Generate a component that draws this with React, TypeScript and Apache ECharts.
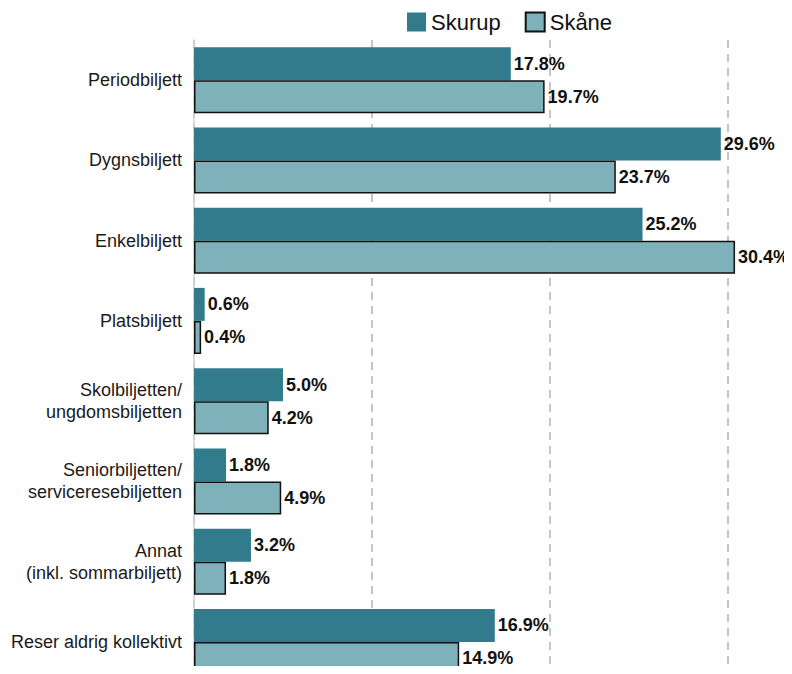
import React, { useEffect, useRef } from "react";
import * as echarts from "echarts";

const categories = [
  "Periodbiljett",
  "Dygnsbiljett",
  "Enkelbiljett",
  "Platsbiljett",
  "Skolbiljetten/\nungdomsbiljetten",
  "Seniorbiljetten/\nserviceresebiljetten",
  "Annat\n(inkl. sommarbiljett)",
  "Reser aldrig kollektivt",
];
const skurup = [17.8, 29.6, 25.2, 0.6, 5.0, 1.8, 3.2, 16.9];
const skane = [19.7, 23.7, 30.4, 0.4, 4.2, 4.9, 1.8, 14.9];

const FONT = "'Liberation Sans', Arial, sans-serif";

export default function App() {
  const ref = useRef<HTMLDivElement>(null);
  useEffect(() => {
    if (!ref.current) return;
    const chart = echarts.init(ref.current, null, { renderer: "svg" });
    const label = {
      show: true,
      position: "right",
      distance: 3,
      fontFamily: FONT,
      fontSize: 18,
      fontWeight: "bold",
      color: "#111",
      formatter: (p: any) => p.value.toFixed(1) + "%",
    };
    chart.setOption({
      animation: false,
      textStyle: { fontFamily: FONT },
      legend: {
        left: 402,
        top: 6,
        icon: "rect",
        itemWidth: 19,
        itemHeight: 19,
        itemGap: 24,
        textStyle: { fontSize: 22, color: "#111", fontFamily: FONT },
        data: ["Skurup", "Skåne"],
      },
      grid: {
        left: 194,
        top: 40,
        width: 598,
        height: 642,
        containLabel: false,
        outerBoundsMode: "none",
      },
      xAxis: {
        type: "value",
        min: 0,
        max: 33.6,
        interval: 10,
        axisLabel: { show: false },
        axisLine: { show: false },
        axisTick: { show: false },
        splitLine: {
          show: true,
          lineStyle: { color: "#b4b4b4", type: [8, 6], width: 1.5 },
        },
      },
      yAxis: {
        type: "category",
        inverse: true,
        data: categories,
        axisLine: { show: true, lineStyle: { color: "#d0d0d0", width: 1.5 } },
        axisTick: { show: false },
        axisLabel: {
          fontSize: 18,
          color: "#1a1a1a",
          fontFamily: FONT,
          margin: 12,
          lineHeight: 22,
          align: "right",
        },
      },
      series: [
        {
          name: "Skurup",
          type: "bar",
          data: skurup,
          barWidth: 33,
          barGap: "0%",
          itemStyle: { color: "#317b8c" },
          label,
        },
        {
          name: "Skåne",
          type: "bar",
          data: skane,
          barWidth: 33,
          barGap: "0%",
          itemStyle: { color: "#7fb1ba", borderColor: "#111", borderWidth: 1.5 },
          label,
        },
      ],
    });
    return () => chart.dispose();
  }, []);
  return <div ref={ref} style={{ width: 792, height: 674, margin: -8 }} />;
}
